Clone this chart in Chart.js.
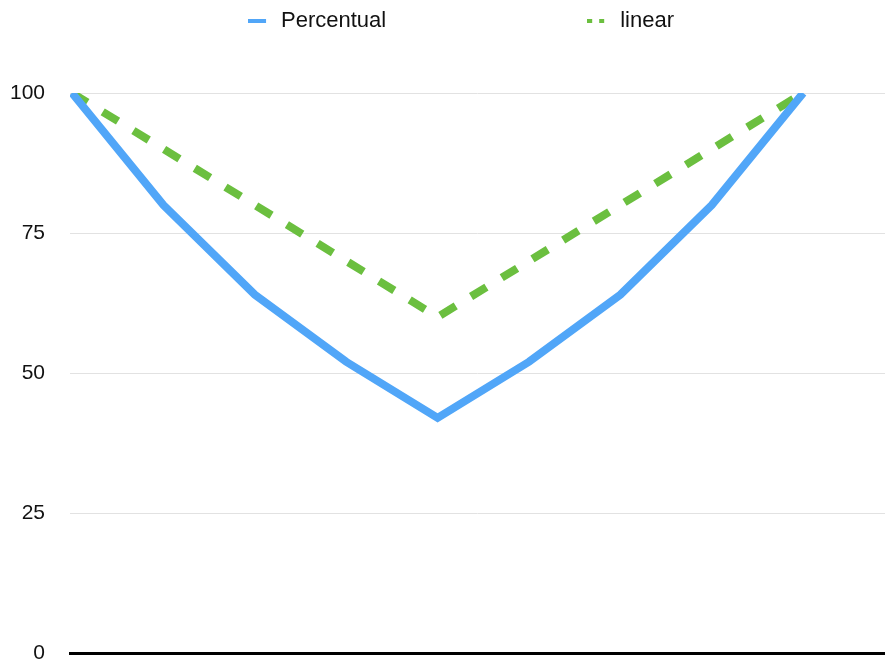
<!DOCTYPE html>
<html>
<head>
<meta charset="utf-8">
<script src="https://cdn.jsdelivr.net/npm/chart.js@4/dist/chart.umd.min.js"></script>
<style>
  html, body { margin: 0; padding: 0; background: #fff; overflow: hidden; }
  #wrap { width: 885px; height: 664px; }
</style>
</head>
<body>
<div id="wrap"><canvas id="chart"></canvas></div>
<script>
// Percentual vs linear decay, then back up again
const steps = [0, 1, 2, 3, 4, 5, 6, 7, 8];
const percentual = [100, 80, 64, 52, 42, 52, 64, 80, 100];
const linear = [100, 90, 80, 70, 60, 70, 80, 90, 100];
const yTicks = [0, 25, 50, 75, 100];

const BLUE = "#51a6f8", GREEN = "#6bbf3f", GRID = "#e2e2e2", INK = "#111";
const FONT = "'Liberation Sans', Arial, sans-serif";
const LEGEND_PAD = 205;   // horizontal gap between the two legend items

const pts = (ys) => steps.map((x, i) => ({ x, y: ys[i] }));

// small legend glyph: an 18px stroke on the left of a 26px canvas
function glyph(color, dash) {
  const c = document.createElement("canvas");
  c.width = 26; c.height = 8;
  const g = c.getContext("2d");
  g.strokeStyle = color; g.lineWidth = 4; g.setLineDash(dash);
  g.beginPath(); g.moveTo(0, 4); g.lineTo(18, 4); g.stroke();
  return c;
}

// legend: fixed height above the plot, items spread apart but kept near the top
const legendBox = {
  id: "legendBox",
  beforeInit(chart) {
    const fit = chart.legend.fit;
    chart.legend.fit = function () { fit.bind(this)(); this.height = 93; };
  },
  afterLayout(chart) {
    const lg = chart.legend;
    lg.top = 10 - LEGEND_PAD;
    lg.left += 15.5; lg.right += 15.5;
  },
};

new Chart(document.getElementById("chart"), {
  type: "line",
  data: {
    datasets: [
      { label: "Percentual", data: pts(percentual), borderColor: BLUE,
        backgroundColor: BLUE, borderWidth: 8, pointRadius: 0, tension: 0 },
      { label: "linear", data: pts(linear), borderColor: GREEN,
        backgroundColor: GREEN, borderWidth: 8, borderDash: [18, 18],
        pointRadius: 0, tension: 0 },
    ],
  },
  options: {
    responsive: true, maintainAspectRatio: false, animation: false,
    layout: { padding: { left: 10, right: 0, top: 0, bottom: 11 } },
    plugins: {
      tooltip: { enabled: false },
      legend: {
        position: "top",
        labels: {
          color: INK, font: { family: FONT, size: 22 }, padding: LEGEND_PAD,
          usePointStyle: true, pointStyleWidth: 18,
          generateLabels: (chart) => chart.data.datasets.map((d, i) => ({
            text: d.label, datasetIndex: i, fontColor: INK, lineWidth: 0,
            pointStyle: glyph(d.borderColor, i === 1 ? [5, 7] : []),
          })),
        },
      },
    },
    scales: {
      x: {
        type: "linear", min: -0.022, max: 8.895,
        ticks: { display: false },
        grid: { display: false, drawTicks: false },
        border: { color: "#000", width: 3 },
        afterFit: (s) => { s.height = 0; },
      },
      y: {
        min: 0, max: 100,
        afterBuildTicks: (s) => { s.ticks = yTicks.map((v) => ({ value: v })); },
        ticks: { color: INK, font: { family: FONT, size: 21 }, padding: 25 },
        grid: { color: GRID, lineWidth: 1, drawTicks: false },
        border: { display: false },
        afterFit: (s) => { s.width = 60; s.paddingTop = 0; s.paddingBottom = 0; },
      },
    },
  },
  plugins: [legendBox],
});
</script>
</body>
</html>
